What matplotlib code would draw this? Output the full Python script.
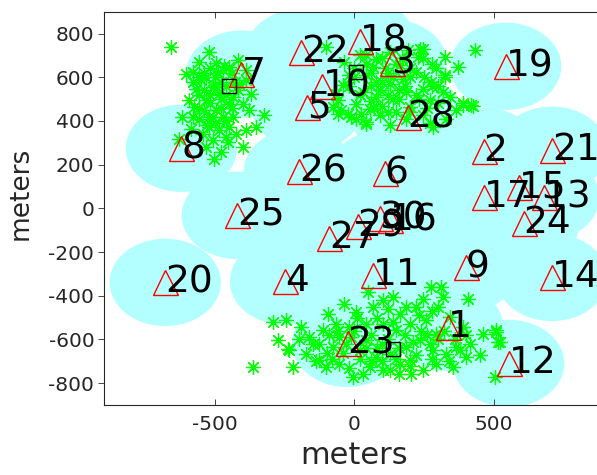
import numpy as np
import matplotlib.pyplot as plt
from matplotlib.patches import Ellipse

plt.rcParams['axes.unicode_minus'] = False

# base station positions (m), numbered 1..30 in order
bs_x = [335, 464, 133, -248, -169, 108, -406, -622, 399, -115, 65, 554, 680, 709, 590,
        126, 464, 18, 543, -680, 709, -191, -25, 608, -421, -198, -90, 191, 11, 90]
bs_y = [-545, 261, 664, -334, 462, 160, 614, 275, -270, 559, -307, -710, 50, -316, 96,
        -55, 50, 765, 650, -339, 266, 714, -618, -69, -32, 169, -137, 417, -82, -46]
cell_radius = 200

# hotspot centres
hot_x = [-450, 137, 7]
hot_y = [559, -646, 623]

# user positions around each hotspot (m)
ue_west = [(-660, 739), (-522, 716), (-558, 670), (-606, 617), (-570, 548), (-594, 495),
           (-618, 418), (-576, 464), (-534, 495), (-498, 663), (-474, 632), (-450, 647),
           (-534, 601), (-510, 556), (-486, 525), (-438, 510), (-402, 479), (-372, 525),
           (-324, 426), (-354, 372), (-390, 357), (-402, 281), (-462, 326), (-480, 258),
           (-504, 228), (-534, 281), (-546, 342), (-588, 365), (-630, 319), (-522, 418),
           (-498, 449), (-474, 418), (-438, 418), (-426, 342), (-414, 571), (-390, 586),
           (-552, 586), (-582, 625), (-480, 578), (-450, 479), (-522, 372), (-486, 357),
           (-558, 411), (-420, 678), (-390, 632), (-378, 449), (-456, 304), (-510, 311),
           (-500, 600), (-460, 560), (-520, 520), (-440, 620), (-480, 460), (-500, 390),
           (-540, 450), (-420, 540), (-460, 400), (-560, 520), (-520, 640), (-580, 580),
           (-540, 620), (-500, 560), (-460, 520), (-520, 480), (-560, 460), (-440, 460),
           (-480, 500), (-540, 540), (-430, 580), (-470, 650), (-510, 420), (-450, 370),
           (-530, 380), (-580, 420), (-560, 600), (-490, 620)]
ue_north = [(-102, 739), (432, 723), (372, 647), (390, 472), (420, 472), (282, 372),
            (42, 388), (-60, 434), (-24, 434), (246, 731), (324, 693), (294, 640),
            (324, 609), (276, 578), (318, 533), (270, 495), (330, 411), (246, 426),
            (198, 464), (126, 380), (90, 426), (6, 479), (-60, 495), (-42, 563),
            (-36, 670), (18, 701), (78, 685), (126, 716), (192, 723), (228, 693),
            (42, 609), (78, 578), (126, 571), (174, 594), (222, 625), (246, 548),
            (186, 533), (138, 502), (78, 510), (30, 533), (54, 456), (150, 441),
            (186, 411), (6, 411), (-18, 609), (108, 640), (162, 655), (66, 647),
            (324, 601), (342, 510), (390, 481), (426, 467), (366, 449), (270, 389),
            (234, 731), (246, 686), (-48, 449), (-12, 418), (42, 395), (24, 434),
            (-66, 525), (-78, 464), (60, 560), (120, 620), (180, 560), (100, 470),
            (200, 600), (150, 660), (40, 660), (230, 500), (90, 540), (160, 500),
            (0, 600), (60, 620), (100, 580), (140, 600), (200, 640), (250, 600),
            (280, 560), (220, 520), (160, 540), (120, 520), (60, 490), (20, 520),
            (-20, 560), (40, 700), (100, 690), (170, 690), (280, 660), (300, 480),
            (200, 440), (120, 440), (0, 640), (70, 460), (260, 460), (300, 560)]
ue_south = [(48, -383), (276, -360), (312, -360), (408, -414), (246, -414), (-36, -436),
            (102, -421), (138, -406), (222, -452), (300, -452), (510, -559), (516, -612),
            (450, -673), (504, -772), (462, -574), (414, -620), (-294, -521), (-246, -513),
            (-276, -604), (-222, -727), (-234, -650), (-192, -544), (-6, -772), (204, -757),
            (102, -742), (-96, -482), (6, -475), (66, -452), (162, -482), (342, -498),
            (390, -544), (366, -635), (354, -727), (294, -711), (246, -742), (162, -711),
            (54, -727), (-54, -711), (-126, -696), (-174, -665), (-162, -589), (-114, -559),
            (-66, -528), (-18, -544), (42, -528), (102, -528), (150, -559), (198, -528),
            (258, -513), (294, -574), (234, -604), (186, -635), (126, -665), (78, -681),
            (18, -650), (-78, -635), (-126, -620), (-102, -727), (330, -665), (402, -681),
            (282, -650), (198, -696), (126, -742), (-12, -589), (-54, -589), (42, -604),
            (186, -452), (318, -406), (-366, -727), (-240, -642), (510, -566), (522, -612),
            (0, -560), (60, -580), (120, -600), (180, -580), (240, -560), (300, -600),
            (80, -640), (20, -690), (-40, -660), (150, -690), (220, -670), (270, -620),
            (-90, -580), (100, -700), (-150, -620), (-100, -660), (-30, -620), (40, -640),
            (100, -620), (160, -640), (210, -610), (260, -580), (320, -560), (360, -600),
            (340, -700), (280, -690), (200, -720), (60, -700), (-20, -730), (-80, -690),
            (-140, -700), (10, -500), (80, -500), (140, -520), (230, -490), (280, -470),
            (120, -460), (400, -580), (380, -650), (-60, -560), (-200, -600), (30, -760),
            (160, -760)]

x_ticks = [-500, 0, 500]
y_ticks = [-800, -600, -400, -200, 0, 200, 400, 600, 800]

fig = plt.figure(figsize=(5.97, 4.75), dpi=100)
ax = fig.add_axes([0.1742, 0.1474, 0.8392, 0.828])

# coverage areas
for x, y in zip(bs_x, bs_y):
    ax.add_patch(Ellipse((x, y), 2 * cell_radius, 2 * cell_radius,
                         facecolor='#b3ffff', edgecolor='none', zorder=1))

ue = np.array(ue_west + ue_north + ue_south)
ax.plot(ue[:, 0], ue[:, 1], linestyle='none', marker=(8, 2, 0), markersize=10.5,
        color='#00ff00', markeredgewidth=0.9, zorder=2)

ax.plot(bs_x, bs_y, linestyle='none', marker='^', markersize=18,
        markerfacecolor='none', markeredgecolor='red', markeredgewidth=1, zorder=3)
ax.plot(hot_x, hot_y, linestyle='none', marker='s', markersize=10,
        markerfacecolor='none', markeredgecolor='black', markeredgewidth=1, zorder=4)

for i, (x, y) in enumerate(zip(bs_x, bs_y)):
    ax.text(x, y, str(i + 1), fontsize=27, ha='left', va='center', zorder=5)

ax.set_xlim(-900, 900)
ax.set_ylim(-900, 900)
ax.set_xticks(x_ticks)
ax.set_yticks(y_ticks)

for s in ax.spines.values():
    s.set_color('#262626')
    s.set_linewidth(0.8)
ax.tick_params(axis='x', direction='in', top=True, length=4, width=0.6,
               colors='#262626', labelsize=14.5, pad=7)
ax.tick_params(axis='y', direction='out', length=4, width=0.6,
               colors='#262626', labelsize=14.5, pad=3)

ax.set_xlabel('meters', fontsize=22, color='#262626', labelpad=5)
ax.set_ylabel('meters', fontsize=19, color='#262626')
ax.yaxis.set_label_coords(-0.14, 0.537)

fig.savefig('out.png', dpi=100)
